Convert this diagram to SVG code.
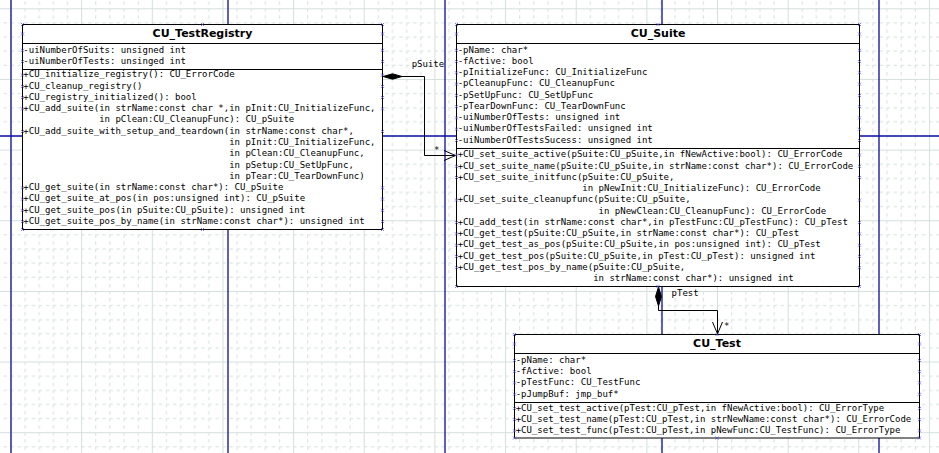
<svg xmlns="http://www.w3.org/2000/svg" xmlns:xlink="http://www.w3.org/1999/xlink" width="939" height="453" viewBox="0 0 939 453">
<style>
.grid-major{stroke:#d3e0dc;stroke-width:1;fill:none}
.grid-minor{stroke:#d3e0dc;stroke-width:1;fill:none;stroke-dasharray:3.5 3.565}
.pb{stroke:#0c0ca2;stroke-width:1.3;fill:none}
.box{fill:#ffffff;stroke:#000000;stroke-width:1}
.sep{stroke:#000000;stroke-width:1;fill:none}
.title{font-family:"DejaVu Sans","Liberation Sans",sans-serif;font-weight:bold;font-size:11px;text-anchor:middle;fill:#000}
.m{font-family:"DejaVu Sans Mono","Liberation Mono",monospace;font-size:9px;fill:#000;white-space:pre}
.conn{stroke:#000;stroke-width:1;fill:none}
.dia{fill:#000;stroke:#000;stroke-width:1}
.cp{stroke:#4a4ae0;stroke-width:0.7;fill:none}
</style>
<defs>
<pattern id="grid" patternUnits="userSpaceOnUse" x="10.5" y="8.3" width="70.65" height="70.65">
<path class="grid-minor" d="M14.63 0V70.65M28.76 0V70.65M42.89 0V70.65M57.02 0V70.65M0 14.63H70.65M0 28.76H70.65M0 42.89H70.65M0 57.02H70.65"/>
<path class="grid-major" d="M0.5 0V70.65M0 0.5H70.65"/>
</pattern>
<path id="cp" class="cp" d="M-1.5 -1.5L1.5 1.5M-1.5 1.5L1.5 -1.5"/>
</defs>
<rect x="0" y="0" width="939" height="453" fill="#ffffff"/>
<rect x="0" y="0" width="939" height="453" fill="url(#grid)"/>
<g id="page-breaks">
<path class="pb" d="M11 0V453M228 0V453M445 0V453M662 0V453M879 0V453M0 136H939"/>
</g>

<g id="CU_TestRegistry">
<rect class="box" x="22.5" y="24.5" width="360" height="205"/>
<path class="sep" d="M22.5 43.5H382.5M22.5 69.5H382.5"/>
<text class="title" x="202.5" y="36.7">CU_TestRegistry</text>
<text class="m" x="23.3" y="52.6">-uiNumberOfSuits: unsigned int</text>
<text class="m" x="23.3" y="63.9">-uiNumberOfTests: unsinged int</text>
<text class="m" x="23.3" y="77.4">+CU_initialize_registry(): CU_ErrorCode</text>
<text class="m" x="23.3" y="88.67">+CU_cleanup_registry()</text>
<text class="m" x="23.3" y="99.94">+CU_registry_initialized(): bool</text>
<text class="m" x="23.3" y="111.21">+CU_add_suite(in strName:const char *,in pInit:CU_InitializeFunc,</text>
<text class="m" x="99.2" y="122.48">in pClean:CU_CleanupFunc): CU_pSuite</text>
<text class="m" x="23.3" y="133.75">+CU_add_suite_with_setup_and_teardown(in strName:const char*,</text>
<text class="m" x="229.2" y="145.02">in pInit:CU_InitializeFunc,</text>
<text class="m" x="229.2" y="156.29">in pClean:CU_CleanupFunc,</text>
<text class="m" x="229.2" y="167.56">in pSetup:CU_SetUpFunc,</text>
<text class="m" x="229.2" y="178.83">in pTear:CU_TearDownFunc)</text>
<text class="m" x="23.3" y="190.1">+CU_get_suite(in strName:const char*): CU_pSuite</text>
<text class="m" x="23.3" y="201.37">+CU_get_suite_at_pos(in pos:unsigned int): CU_pSuite</text>
<text class="m" x="23.3" y="212.64">+CU_get_suite_pos(in pSuite:CU_pSuite): unsigned int</text>
<text class="m" x="23.3" y="223.91">+CU_get_suite_pos_by_name(in strName:const char*): unsigned int</text>
</g>

<g id="CU_Suite">
<rect class="box" x="456.5" y="24.5" width="403" height="262"/>
<path class="sep" d="M456.5 43.5H859.5M456.5 148.5H859.5"/>
<text class="title" x="658" y="36.7">CU_Suite</text>
<text class="m" x="457.7" y="52.6">-pName: char*</text>
<text class="m" x="457.7" y="63.87">-fActive: bool</text>
<text class="m" x="457.7" y="75.14">-pInitializeFunc: CU_InitializeFunc</text>
<text class="m" x="457.7" y="86.41">-pCleanupFunc: CU_CleanupFunc</text>
<text class="m" x="457.7" y="97.68">-pSetUpFunc: CU_SetUpFunc</text>
<text class="m" x="457.7" y="108.95">-pTearDownFunc: CU_TearDownFunc</text>
<text class="m" x="457.7" y="120.22">-uiNumberOfTests: unsigned int</text>
<text class="m" x="457.7" y="131.49">-uiNumberOfTestsFailed: unsigned int</text>
<text class="m" x="457.7" y="142.76">-uiNumberOfTestsSucess: unsigned int</text>
<text class="m" x="457.7" y="157.3">+CU_set_suite_active(pSuite:CU_pSuite,in fNewActive:bool): CU_ErrorCode</text>
<text class="m" x="457.7" y="168.57">+CU_set_suite_name(pSuite:CU_pSuite,in strName:const char*): CU_ErrorCode</text>
<text class="m" x="457.7" y="179.84">+CU_set_suite_initfunc(pSuite:CU_pSuite,</text>
<text class="m" x="582.3" y="191.11">in pNewInit:CU_InitializeFunc): CU_ErrorCode</text>
<text class="m" x="457.7" y="202.38">+CU_set_suite_cleanupfunc(pSuite:CU_pSuite,</text>
<text class="m" x="598.6" y="213.65">in pNewClean:CU_CleanupFunc): CU_ErrorCode</text>
<text class="m" x="457.7" y="224.92">+CU_add_test(in strName:const char*,in pTestFunc:CU_pTestFunc): CU_pTest</text>
<text class="m" x="457.7" y="236.19">+CU_get_test(pSuite:CU_pSuite,in strName:const char*): CU_pTest</text>
<text class="m" x="457.7" y="247.46">+CU_get_test_as_pos(pSuite:CU_pSuite,in pos:unsigned int): CU_pTest</text>
<text class="m" x="457.7" y="258.73">+CU_get_test_pos(pSuite:CU_pSuite,in pTest:CU_pTest): unsigned int</text>
<text class="m" x="457.7" y="270">+CU_get_test_pos_by_name(pSuite:CU_pSuite,</text>
<text class="m" x="593.2" y="281.27">in strName:const char*): unsigned int</text>
</g>

<g id="CU_Test">
<rect class="box" x="514.5" y="334.5" width="405" height="103.5"/>
<path class="sep" d="M514.5 353.5H919.5M514.5 402.5H919.5"/>
<text class="title" x="717" y="346.7">CU_Test</text>
<text class="m" x="515.7" y="362.7">-pName: char*</text>
<text class="m" x="515.7" y="373.97">-fActive: bool</text>
<text class="m" x="515.7" y="385.24">-pTestFunc: CU_TestFunc</text>
<text class="m" x="515.7" y="396.51">-pJumpBuf: jmp_buf*</text>
<text class="m" x="515.7" y="410.7">+CU_set_test_active(pTest:CU_pTest,in fNewActive:bool): CU_ErrorType</text>
<text class="m" x="515.7" y="421.97">+CU_set_test_name(pTest:CU_pTest,in strNewName:const char*): CU_ErrorCode</text>
<text class="m" x="515.7" y="433.24">+CU_set_test_func(pTest:CU_pTest,in pNewFunc:CU_TestFunc): CU_ErrorType</text>
</g>

<g id="connectors">
<path class="conn" d="M402 76.5H424.5V155.5H455"/>
<polygon class="dia" points="383,76.5 392.5,73.8 402,76.5 392.5,79.2"/>
<path class="conn" d="M444 150.5L455.5 155.5L444 160.5"/>
<text class="m" x="411.7" y="66.9">pSuite</text>
<text class="m" x="434" y="153">*</text>
<path class="conn" d="M658.5 306V310.5H717.5V333.5"/>
<polygon class="dia" points="658.5,287 661.5,296.5 658.5,306 655.5,296.5"/>
<path class="conn" d="M712.5 322L717.5 333.8L722.5 322"/>
<text class="m" x="671.6" y="295.5">pTest</text>
<text class="m" x="724" y="328.5">*</text>
</g>

<g id="connection-points">
<use xlink:href="#cp" x="22.5" y="24.5"/><use xlink:href="#cp" x="202.5" y="24.5"/><use xlink:href="#cp" x="382.5" y="24.5"/>
<use xlink:href="#cp" x="22.5" y="229.5"/><use xlink:href="#cp" x="202.5" y="229.5"/><use xlink:href="#cp" x="382.5" y="229.5"/>
<use xlink:href="#cp" x="22.5" y="34"/><use xlink:href="#cp" x="382.5" y="34"/>
<use xlink:href="#cp" x="22.5" y="50.3"/><use xlink:href="#cp" x="382.5" y="50.3"/>
<use xlink:href="#cp" x="22.5" y="61.6"/><use xlink:href="#cp" x="382.5" y="61.6"/>
<use xlink:href="#cp" x="22.5" y="75.1"/><use xlink:href="#cp" x="382.5" y="75.1"/>
<use xlink:href="#cp" x="22.5" y="86.4"/><use xlink:href="#cp" x="382.5" y="86.4"/>
<use xlink:href="#cp" x="22.5" y="97.6"/><use xlink:href="#cp" x="382.5" y="97.6"/>
<use xlink:href="#cp" x="22.5" y="108.9"/><use xlink:href="#cp" x="382.5" y="108.9"/>
<use xlink:href="#cp" x="22.5" y="131.5"/><use xlink:href="#cp" x="382.5" y="131.5"/>
<use xlink:href="#cp" x="22.5" y="187.8"/><use xlink:href="#cp" x="382.5" y="187.8"/>
<use xlink:href="#cp" x="22.5" y="199.1"/><use xlink:href="#cp" x="382.5" y="199.1"/>
<use xlink:href="#cp" x="22.5" y="210.3"/><use xlink:href="#cp" x="382.5" y="210.3"/>
<use xlink:href="#cp" x="22.5" y="221.6"/><use xlink:href="#cp" x="382.5" y="221.6"/>

<use xlink:href="#cp" x="456.5" y="24.5"/><use xlink:href="#cp" x="658" y="24.5"/><use xlink:href="#cp" x="859.5" y="24.5"/>
<use xlink:href="#cp" x="456.5" y="286.5"/><use xlink:href="#cp" x="658" y="286.5"/><use xlink:href="#cp" x="859.5" y="286.5"/>
<use xlink:href="#cp" x="456.5" y="34"/><use xlink:href="#cp" x="859.5" y="34"/>
<use xlink:href="#cp" x="456.5" y="50.3"/><use xlink:href="#cp" x="859.5" y="50.3"/>
<use xlink:href="#cp" x="456.5" y="61.6"/><use xlink:href="#cp" x="859.5" y="61.6"/>
<use xlink:href="#cp" x="456.5" y="72.8"/><use xlink:href="#cp" x="859.5" y="72.8"/>
<use xlink:href="#cp" x="456.5" y="84.1"/><use xlink:href="#cp" x="859.5" y="84.1"/>
<use xlink:href="#cp" x="456.5" y="95.4"/><use xlink:href="#cp" x="859.5" y="95.4"/>
<use xlink:href="#cp" x="456.5" y="106.7"/><use xlink:href="#cp" x="859.5" y="106.7"/>
<use xlink:href="#cp" x="456.5" y="117.9"/><use xlink:href="#cp" x="859.5" y="117.9"/>
<use xlink:href="#cp" x="456.5" y="129.2"/><use xlink:href="#cp" x="859.5" y="129.2"/>
<use xlink:href="#cp" x="456.5" y="140.5"/><use xlink:href="#cp" x="859.5" y="140.5"/>
<use xlink:href="#cp" x="456.5" y="155"/><use xlink:href="#cp" x="859.5" y="155"/>
<use xlink:href="#cp" x="456.5" y="166.3"/><use xlink:href="#cp" x="859.5" y="166.3"/>
<use xlink:href="#cp" x="456.5" y="177.5"/><use xlink:href="#cp" x="859.5" y="177.5"/>
<use xlink:href="#cp" x="456.5" y="200.1"/><use xlink:href="#cp" x="859.5" y="200.1"/>
<use xlink:href="#cp" x="456.5" y="222.6"/><use xlink:href="#cp" x="859.5" y="222.6"/>
<use xlink:href="#cp" x="456.5" y="233.9"/><use xlink:href="#cp" x="859.5" y="233.9"/>
<use xlink:href="#cp" x="456.5" y="245.2"/><use xlink:href="#cp" x="859.5" y="245.2"/>
<use xlink:href="#cp" x="456.5" y="256.4"/><use xlink:href="#cp" x="859.5" y="256.4"/>
<use xlink:href="#cp" x="456.5" y="267.7"/><use xlink:href="#cp" x="859.5" y="267.7"/>

<use xlink:href="#cp" x="514.5" y="334.5"/><use xlink:href="#cp" x="717" y="334.5"/><use xlink:href="#cp" x="919.5" y="334.5"/>
<use xlink:href="#cp" x="514.5" y="438"/><use xlink:href="#cp" x="717" y="438"/><use xlink:href="#cp" x="919.5" y="438"/>
<use xlink:href="#cp" x="514.5" y="344"/><use xlink:href="#cp" x="919.5" y="344"/>
<use xlink:href="#cp" x="514.5" y="360.4"/><use xlink:href="#cp" x="919.5" y="360.4"/>
<use xlink:href="#cp" x="514.5" y="371.7"/><use xlink:href="#cp" x="919.5" y="371.7"/>
<use xlink:href="#cp" x="514.5" y="382.9"/><use xlink:href="#cp" x="919.5" y="382.9"/>
<use xlink:href="#cp" x="514.5" y="394.2"/><use xlink:href="#cp" x="919.5" y="394.2"/>
<use xlink:href="#cp" x="514.5" y="408.4"/><use xlink:href="#cp" x="919.5" y="408.4"/>
<use xlink:href="#cp" x="514.5" y="419.7"/><use xlink:href="#cp" x="919.5" y="419.7"/>
<use xlink:href="#cp" x="514.5" y="430.9"/><use xlink:href="#cp" x="919.5" y="430.9"/>
</g>
</svg>
